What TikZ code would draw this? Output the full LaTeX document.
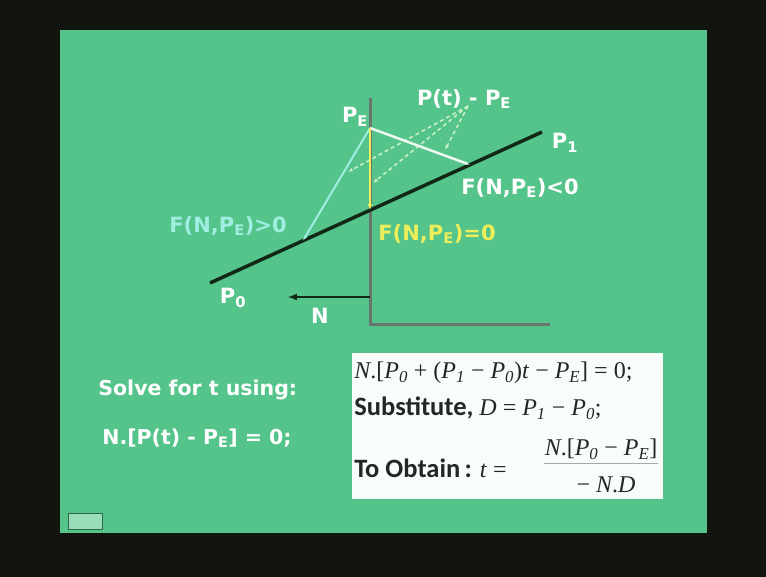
\documentclass[tikz,border=0pt]{standalone}
\usepackage{fontspec}
\setmainfont{DejaVu Sans}
\newfontfamily\carl{Carlito}
\newfontfamily\tms{Liberation Serif}
\usetikzlibrary{arrows.meta, positioning, calc}

\definecolor{slide}{RGB}{84,196,138}
\definecolor{frame}{RGB}{18,20,16}
\definecolor{ink}{RGB}{18,40,22}
\definecolor{axis}{RGB}{105,118,112}
\definecolor{cyanline}{RGB}{160,238,225}
\definecolor{yell}{RGB}{238,238,90}
\definecolor{dashc}{RGB}{205,242,200}
\definecolor{boxtext}{RGB}{35,38,36}

\newcommand{\Pv}[1]{\textit{P}\textsubscript{\textit{#1}}}

\begin{document}
\begin{tikzpicture}[x=1pt, y=-1pt, >=latex, thick,
    lbl/.style={text=white, inner sep=0pt, font=\bfseries\fontsize{21}{21}\selectfont},
    bigtxt/.style={text=white, inner sep=0pt, anchor=west, font=\bfseries\fontsize{20.5}{20.5}\selectfont},
    boxline/.style={text=boxtext, inner sep=0pt, anchor=west, font=\tms\fontsize{24}{24}\selectfont},
    dashvec/.style={draw=dashc, line width=1.5pt, dash pattern=on 4pt off 3pt, -{Latex[length=5pt]}}]
  % slide
  \fill[frame] (0,0) rectangle (766,577);
  \fill[slide] (60,30) rectangle (707,533);
  \useasboundingbox (0,0) rectangle (766,577);

  % points
  \coordinate (PE) at (370,128);
  \coordinate (P0) at (210,283);
  \coordinate (P1) at (542,132);
  \coordinate (foot) at (370,210.2);
  \coordinate (neg) at (470,164.8);
  \coordinate (pos) at (303,240.7);
  \coordinate (axtop) at (370,98);
  \coordinate (corner) at (370,325);
  \coordinate (axend) at (550,325);
  \coordinate (ntail) at (370,297);
  \coordinate (nhead) at (288,297);
  \coordinate (apex) at (468,106);
  \coordinate (d1) at (348,172);
  \coordinate (d2) at (373,183);
  \coordinate (d3) at (445,150);

  % axes and line
  \draw[axis, line width=3pt] (axtop) -- (corner) -- (axend);
  \draw[ink, line width=3.5pt] (P0) -- (P1);
  \draw[ink, line width=2pt, ->] (ntail) -- (nhead);

  % vectors from PE
  \draw[dashvec] (apex) -- (d1);
  \draw[dashvec] (apex) -- (d2);
  \draw[dashvec] (apex) -- (d3);
  \draw[cyanline, line width=2pt, -{Latex[length=5pt]}] (PE) -- (pos);
  \draw[white!90!slide, line width=2.5pt, -{Latex[length=5pt]}] (PE) -- (neg);
  \draw[yell, line width=2pt, -{Latex[length=6pt]}] (PE) -- (foot);

  % labels
  \node[lbl] (lPE) at (355,117) {P\textsubscript{E}};
  \node[lbl] (lPt) at (464,99) {P(t) - P\textsubscript{E}};
  \node[lbl] (lP1) at (565,143) {P\textsubscript{1}};
  \node[lbl] (lP0) at (233,298) {P\textsubscript{0}};
  \node[lbl] (lN) at (320,316) {N};
  \node[lbl] (lneg) at (520,188) {F(N,P\textsubscript{E})<0};
  \node[lbl, text=cyanline] (lpos) at (228,226) {F(N,P\textsubscript{E})>0};
  \node[lbl, text=yell] (lzero) at (437,234) {F(N,P\textsubscript{E})=0};

  % text
  \node[bigtxt] (solve) at (98,390) {Solve for t using:};
  \node[bigtxt] (eqn) at (102,438) {N.[P(t) - P\textsubscript{E}] = 0;};

  % box
  \fill[white!96!slide] (352,353) rectangle (663,499);
  \node[boxline] (l1) at (354,373) {\textit{N}.[\Pv{0} + (\Pv{1} − \Pv{0})\textit{t} − \Pv{E}] = 0;};
  \node[boxline] (l2) at (354,408) {{\carl\bfseries\fontsize{26.5}{26.5}\selectfont Substitute,} \textit{D} = \Pv{1} − \Pv{0};};
  \node[boxline] (l3) at (354,468) {{\carl\bfseries\fontsize{26.5}{26.5}\selectfont To Obtain\,:} \textit{t} =};
  \node[boxline, anchor=center] (num) at (601,449) {\textit{N}.[\Pv{0} − \Pv{E}]};
  \node[boxline, anchor=center] (den) at (606,485) {− \textit{N}.\textit{D}};
  \draw[boxtext!40!white, line width=1.2pt] ($(num.south west)+(0,4)$) -- ($(num.south east)+(0,4)$);

  % nav icon
  \node[draw=ink!60!slide, fill=slide!60!white, minimum width=34pt, minimum height=16pt, inner sep=0pt] (nav) at (85,521) {};
\end{tikzpicture}
\end{document}
